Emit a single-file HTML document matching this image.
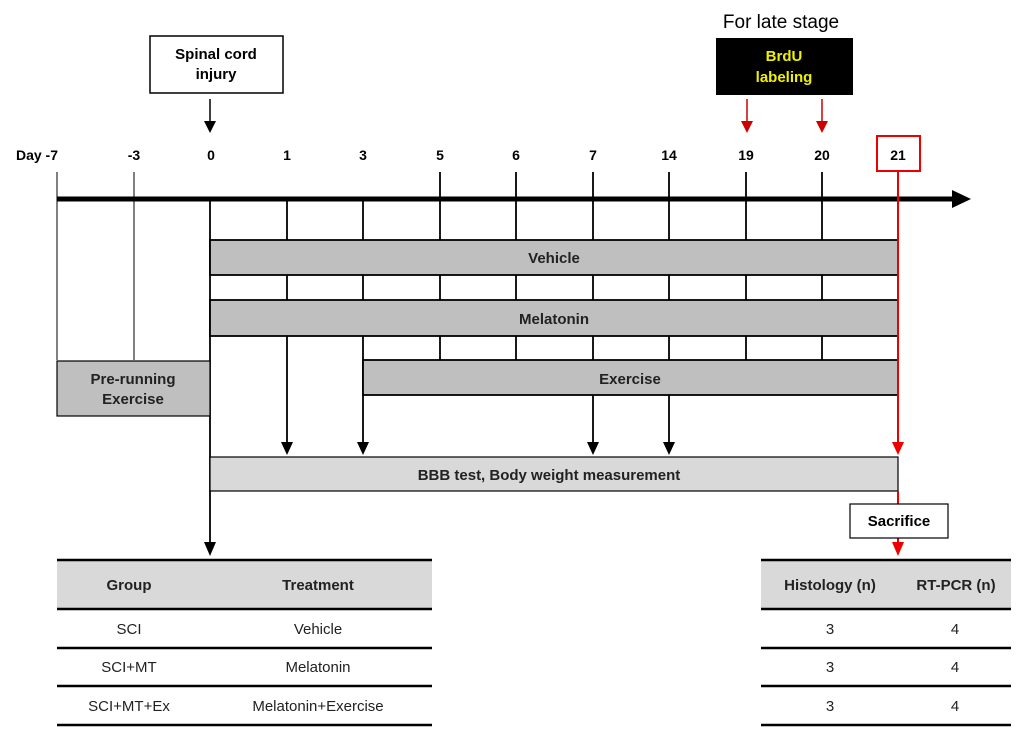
<!DOCTYPE html><html><head><style>body{margin:0;background:#fff}svg{display:block}text{font-family:"Liberation Sans",sans-serif}</style></head><body>
<svg width="1024" height="739" viewBox="0 0 1024 739" xmlns="http://www.w3.org/2000/svg">
<!-- top boxes -->
<rect x="150" y="36" width="133" height="57" fill="#fff" stroke="#000" stroke-width="1.5"/>
<text x="216" y="59" font-size="15" font-weight="bold" text-anchor="middle">Spinal cord</text>
<text x="216" y="79" font-size="15" font-weight="bold" text-anchor="middle">injury</text>
<line x1="210" y1="99" x2="210" y2="122" stroke="#000" stroke-width="1.5"/>
<path d="M204,121 L216,121 L210,133z" fill="#000"/>
<text x="781" y="28" font-size="19" text-anchor="middle">For late stage</text>
<rect x="716" y="38" width="137" height="57" fill="#000"/>
<text x="784" y="61" font-size="15" font-weight="bold" fill="#f0f000" text-anchor="middle">BrdU</text>
<text x="784" y="82" font-size="15" font-weight="bold" fill="#f0f000" text-anchor="middle">labeling</text>
<line x1="747" y1="99" x2="747" y2="122" stroke="#c00" stroke-width="1.5"/>
<path d="M741,121 L753,121 L747,133z" fill="#c00"/>
<line x1="822" y1="99" x2="822" y2="122" stroke="#c00" stroke-width="1.5"/>
<path d="M816,121 L828,121 L822,133z" fill="#c00"/>
<!-- day labels -->
<g font-size="14" font-weight="bold" text-anchor="middle">
<text x="37" y="160">Day -7</text><text x="134" y="160">-3</text><text x="211" y="160">0</text><text x="287" y="160">1</text><text x="363" y="160">3</text><text x="440" y="160">5</text><text x="516" y="160">6</text><text x="593" y="160">7</text><text x="669" y="160">14</text><text x="746" y="160">19</text><text x="822" y="160">20</text><text x="898" y="160">21</text>
</g>
<rect x="877" y="136" width="43" height="35" fill="none" stroke="#e00" stroke-width="2"/>
<g stroke="#000" stroke-width="1">
<line x1="57" y1="172" x2="57" y2="360"/><line x1="134" y1="172" x2="134" y2="360"/>
</g>
<g stroke="#000" stroke-width="1.8">
<line x1="440" y1="172" x2="440" y2="360"/><line x1="516" y1="172" x2="516" y2="360"/><line x1="593" y1="172" x2="593" y2="360"/><line x1="669" y1="172" x2="669" y2="360"/><line x1="746" y1="172" x2="746" y2="360"/><line x1="822" y1="172" x2="822" y2="360"/>
<line x1="287" y1="199" x2="287" y2="444"/>
<line x1="363" y1="199" x2="363" y2="444"/>
<line x1="593" y1="395" x2="593" y2="444"/>
<line x1="669" y1="395" x2="669" y2="444"/>
<line x1="210" y1="199" x2="210" y2="544"/>
</g>
<g fill="#000">
<path d="M281,442 L293,442 L287,455z"/><path d="M357,442 L369,442 L363,455z"/><path d="M587,442 L599,442 L593,455z"/><path d="M663,442 L675,442 L669,455z"/><path d="M204,542 L216,542 L210,556z"/>
</g>
<!-- axis -->
<line x1="57" y1="199" x2="955" y2="199" stroke="#000" stroke-width="5"/>
<path d="M952,190 L971,199 L952,208z" fill="#000"/>
<!-- bars -->
<g stroke="#000" stroke-width="1.8" fill="#bfbfbf">
<rect x="210" y="240" width="688" height="35"/>
<rect x="210" y="300" width="688" height="36"/>
<rect x="363" y="360" width="535" height="35"/>
<rect x="57" y="361" width="153" height="55" stroke-width="1.2"/>
<rect x="210" y="457" width="688" height="34" fill="#d9d9d9" stroke-width="1.2"/>
</g>
<g font-size="15" font-weight="bold" text-anchor="middle" fill="#222">
<text x="554" y="263">Vehicle</text><text x="554" y="324">Melatonin</text><text x="630" y="384">Exercise</text>
<text x="133" y="384">Pre-running</text><text x="133" y="404">Exercise</text>
<text x="549" y="480">BBB test,  Body weight measurement</text>
</g>
<!-- red line -->
<line x1="898" y1="171" x2="898" y2="444" stroke="#e00" stroke-width="2"/>
<path d="M892,442 L904,442 L898,455z" fill="#e00"/>
<line x1="898" y1="491" x2="898" y2="544" stroke="#e00" stroke-width="2"/>
<path d="M892,542 L904,542 L898,556z" fill="#e00"/>
<rect x="850" y="504" width="98" height="34" fill="#fff" stroke="#000" stroke-width="1.2"/>
<text x="899" y="526" font-size="15" font-weight="bold" text-anchor="middle">Sacrifice</text>
<!-- tables -->
<rect x="57" y="560" width="375" height="49" fill="#d9d9d9"/>
<rect x="761" y="560" width="250" height="49" fill="#d9d9d9"/>
<g stroke="#000" stroke-width="2.5">
<line x1="57" y1="560" x2="432" y2="560"/><line x1="57" y1="609" x2="432" y2="609"/><line x1="57" y1="648" x2="432" y2="648"/><line x1="57" y1="686" x2="432" y2="686"/><line x1="57" y1="725" x2="432" y2="725"/>
<line x1="761" y1="560" x2="1011" y2="560"/><line x1="761" y1="609" x2="1011" y2="609"/><line x1="761" y1="648" x2="1011" y2="648"/><line x1="761" y1="686" x2="1011" y2="686"/><line x1="761" y1="725" x2="1011" y2="725"/>
</g>
<g font-size="15" font-weight="bold" text-anchor="middle" fill="#222">
<text x="129" y="590">Group</text><text x="318" y="590">Treatment</text>
<text x="830" y="590">Histology  (n)</text><text x="956" y="590">RT-PCR  (n)</text>
</g>
<g font-size="15" text-anchor="middle" fill="#222">
<text x="129" y="634">SCI</text><text x="318" y="634">Vehicle</text>
<text x="129" y="672">SCI+MT</text><text x="318" y="672">Melatonin</text>
<text x="129" y="711">SCI+MT+Ex</text><text x="318" y="711">Melatonin+Exercise</text>
<text x="830" y="634">3</text><text x="955" y="634">4</text>
<text x="830" y="672">3</text><text x="955" y="672">4</text>
<text x="830" y="711">3</text><text x="955" y="711">4</text>
</g>
</svg>
</body></html>
